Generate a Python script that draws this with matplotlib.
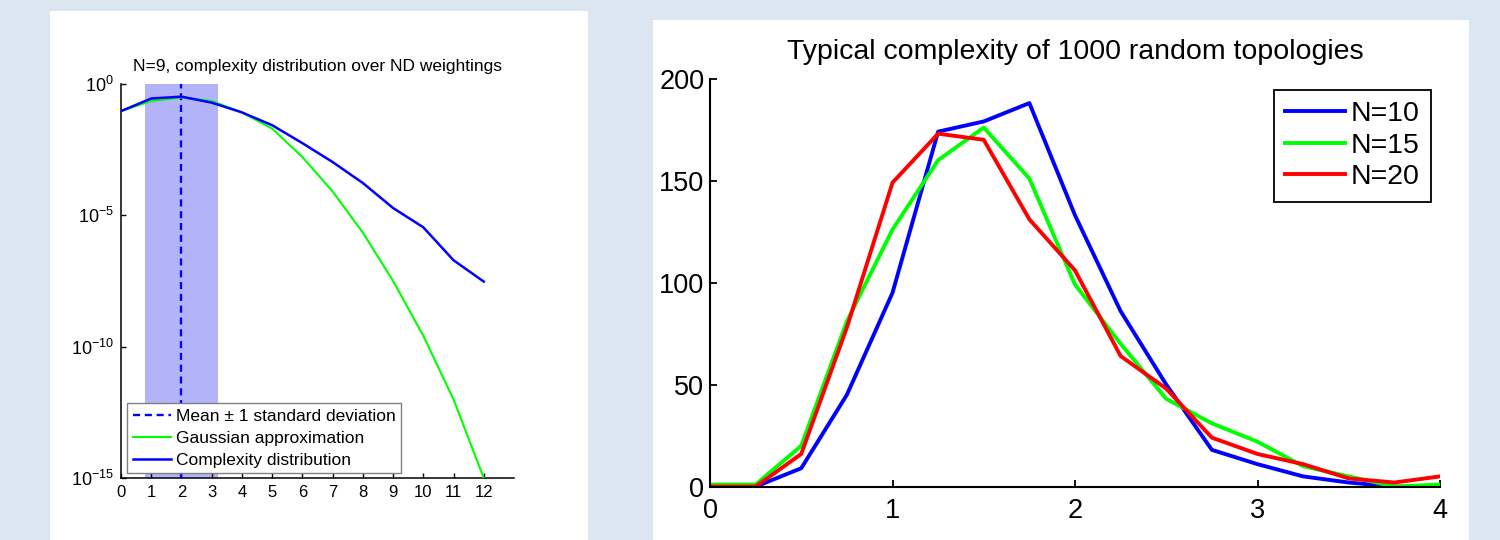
import matplotlib
matplotlib.use('Agg')
import matplotlib.pyplot as plt
from matplotlib.patches import Rectangle

# ── Look ─────────────────────────────────────────────────────────────────────
BG = '#dce6f1'
plt.rcParams.update({
    'font.family': ['Liberation Sans', 'DejaVu Sans'],
    'mathtext.fontset': 'custom',
    'mathtext.rm': 'Liberation Sans',
    'mathtext.it': 'Liberation Sans:italic',
    'mathtext.bf': 'Liberation Sans:bold',
    'axes.spines.top': False,
    'axes.spines.right': False,
    'xtick.direction': 'in',
    'ytick.direction': 'in',
})

# ── Data: left panel (N=9, log scale) ────────────────────────────────────────
complexity = list(range(13))
complexity_dist = [9.3e-2, 2.8e-1, 3.3e-1, 1.95e-1, 8.3e-2, 2.7e-2, 5.6e-3,
                   1.07e-3, 1.7e-4, 1.9e-5, 3.5e-6, 1.95e-7, 3.0e-8]
gaussian_approx = [9.3e-2, 2.25e-1, 3.1e-1, 2.25e-1, 8.3e-2, 2.0e-2, 1.66e-3,
                   8.1e-5, 2.2e-6, 3.2e-8, 2.6e-10, 9.8e-13, 1.0e-15]
mean_c = 2.0
std_c = 1.2

# ── Data: right panel (1000 random topologies) ───────────────────────────────
bins = [0, 0.25, 0.5, 0.75, 1, 1.25, 1.5, 1.75, 2, 2.25, 2.5, 2.75, 3,
        3.25, 3.5, 3.75, 4]
n10 = [0, 0, 9, 45, 95, 174, 179, 188, 133, 86, 50, 18, 11, 5, 2, 0, 0]
n15 = [1, 1, 20, 81, 126, 160, 176, 151, 99, 70, 43, 31, 22, 10, 5, 0, 1]
n20 = [0, 0, 16, 78, 149, 173, 170, 131, 106, 64, 48, 24, 16, 11, 4, 2, 5]

fig = plt.figure(figsize=(15, 5.4), dpi=100, facecolor=BG)

# white cards behind the two plots
fig.add_artist(Rectangle((50 / 1500, 0), 538 / 1500, 529 / 540,
                         transform=fig.transFigure, facecolor='white',
                         edgecolor='none', zorder=-5))
fig.add_artist(Rectangle((653 / 1500, 0), 816 / 1500, 520 / 540,
                         transform=fig.transFigure, facecolor='white',
                         edgecolor='none', zorder=-5))

# ── Left: complexity distribution ────────────────────────────────────────────
ax1 = fig.add_axes([121 / 1500, 1 - 478 / 540, 393 / 1500, 394 / 540])
ax1.set_facecolor('none')
ax1.axvspan(mean_c - std_c, mean_c + std_c, color='#b3b3f9', lw=0, zorder=1)
ax1.axvline(mean_c, color='#0000ff', lw=1.7, ls=(0, (3, 2)), zorder=3,
            label='Mean ± 1 standard deviation')
ax1.plot(complexity, gaussian_approx, color='#00ff00', lw=1.5, zorder=3,
         label='Gaussian approximation')
ax1.plot(complexity, complexity_dist, color='#0000ff', lw=1.8, zorder=4,
         label='Complexity distribution')
ax1.set_yscale('log')
ax1.set_xlim(0, 13)
ax1.set_ylim(1e-15, 1)
ax1.set_xticks(range(13))
ax1.set_yticks([1e-15, 1e-10, 1e-5, 1])
ax1.set_yticklabels([r'$10^{-15}$', r'$10^{-10}$', r'$10^{-5}$', r'$10^{0}$'])
ax1.minorticks_off()
ax1.tick_params(axis='x', labelsize=12, length=3.5, width=1, pad=5)
ax1.tick_params(axis='y', labelsize=13, length=3.5, width=1, pad=5)
for s in ('left', 'bottom'):
    ax1.spines[s].set_linewidth(1.1)
ax1.set_title('N=9, complexity distribution over ND weightings',
              fontsize=12.5, pad=9)
leg1 = ax1.legend(loc='lower left', bbox_to_anchor=(0.0165, 0.0127),
                  borderaxespad=0, fontsize=12.5, handlelength=2.2,
                  handletextpad=0.3, labelspacing=0.4, borderpad=0.3,
                  fancybox=False, framealpha=1)
leg1.get_frame().set_edgecolor('#808080')
leg1.get_frame().set_linewidth(1)

# ── Right: typical complexity ────────────────────────────────────────────────
ax2 = fig.add_axes([710 / 1500, 1 - 486.6 / 540, 730 / 1500, 408 / 540])
ax2.set_facecolor('none')
ax2.plot(bins, n10, color='#0000ff', lw=2.8, label='N=10')
ax2.plot(bins, n15, color='#00ff00', lw=2.8, label='N=15')
ax2.plot(bins, n20, color='#ff0000', lw=2.8, label='N=20')
ax2.set_xlim(0, 4)
ax2.set_ylim(0, 200)
ax2.set_xticks([0, 1, 2, 3, 4])
ax2.set_yticks([0, 50, 100, 150, 200])
ax2.tick_params(labelsize=19.5, length=5, width=1.3)
ax2.tick_params(axis='x', pad=8)
ax2.tick_params(axis='y', pad=4)
for s in ('left', 'bottom'):
    ax2.spines[s].set_linewidth(1.5)
ax2.set_title('Typical complexity of 1000 random topologies',
              fontsize=20.5, pad=14)
leg2 = ax2.legend(loc='upper right', bbox_to_anchor=(0.9877, 0.973),
                  borderaxespad=0, fontsize=20.5, handlelength=2.1,
                  handletextpad=0.2, labelspacing=0.2, borderpad=0.4,
                  fancybox=False, framealpha=1)
leg2.get_frame().set_edgecolor('black')
leg2.get_frame().set_linewidth(1.3)

fig.savefig('out.png', dpi=100, facecolor=BG)
